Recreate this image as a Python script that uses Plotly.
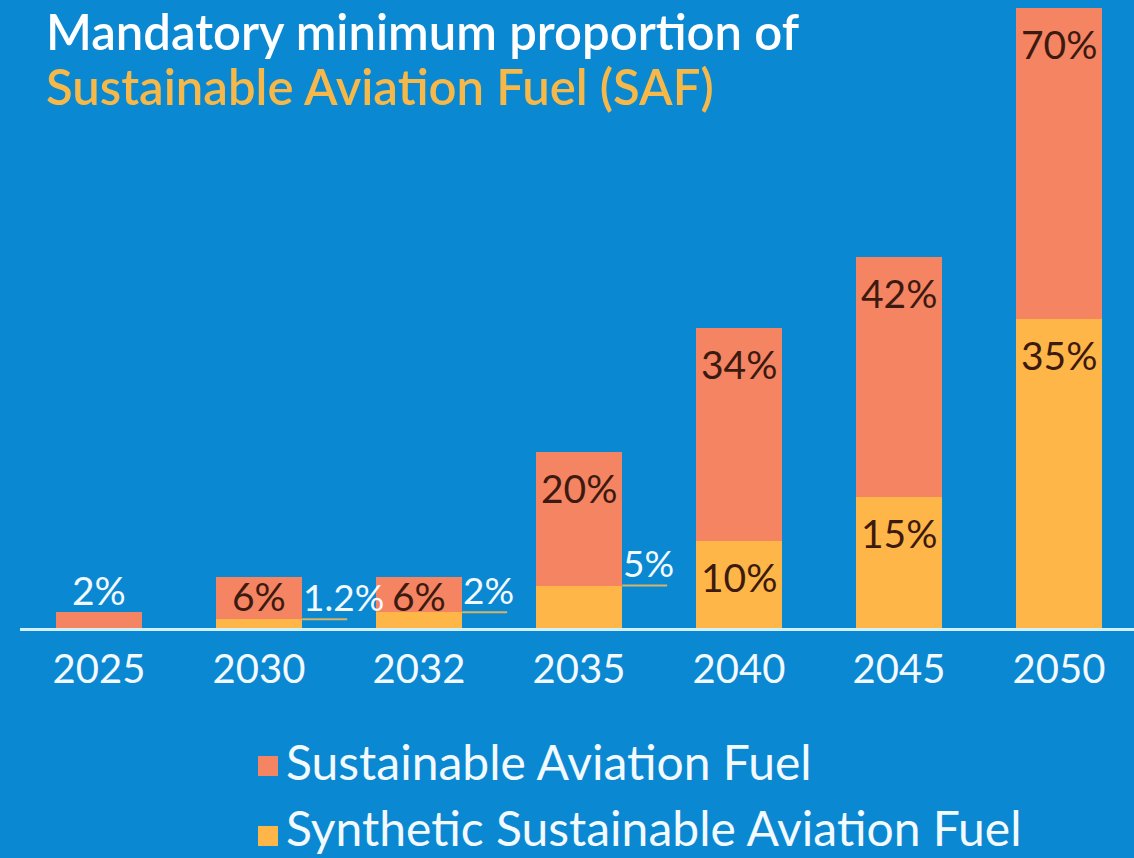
import plotly.graph_objects as go

# ---- data -------------------------------------------------------------
years = ["2025", "2030", "2032", "2035", "2040", "2045", "2050"]
saf_share = [2, 6, 6, 20, 34, 42, 70]              # total SAF, % of fuel
synthetic_share = [0, 1.2, 2, 5, 10, 15, 35]       # synthetic SAF sub-mandate, %

title_line1 = "Mandatory minimum proportion of"
title_line2 = "Sustainable Aviation Fuel (SAF)"
legend_saf = "Sustainable Aviation Fuel"
legend_synth = "Synthetic Sustainable Aviation Fuel"

# ---- styling ----------------------------------------------------------
BG = "#0B88D2"
SALMON = "#F58463"
AMBER = "#FDB647"
GOLD_TEXT = "#F6B848"
DARK = "#3D1A10"
WHITE = "#F2FAFF"
LEADER = "#D6B466"
FONT = "Lato"

W, H = 1134, 858
PLOT_H = 630                 # pixel row of the baseline
SLOT = 160                   # pixels per category
BAR_W = 0.54                 # bar width in category units
X0 = -99 / SLOT              # left edge of the x range
Y_MAX = 70.9
PX_PER_UNIT = PLOT_H / Y_MAX

x = list(range(len(years)))

fig = go.Figure()
fig.add_trace(go.Bar(x=x, y=saf_share, width=BAR_W, marker_color=SALMON,
                     marker_line_width=0, name=legend_saf, showlegend=False))
fig.add_trace(go.Bar(x=x, y=[v if v else None for v in synthetic_share],
                     width=BAR_W, marker_color=AMBER, marker_line_width=0,
                     name=legend_synth, showlegend=False))


def pct(v):
    return f"{v:g}%"


def py(p):
    """pixel row -> paper y"""
    return (PLOT_H - p) / PLOT_H


annotations = []
shapes = []

# total SAF labels: inside the top of the bar, or above when the bar is tiny
for i, v in enumerate(saf_share):
    h = v * PX_PER_UNIT
    if h < 30:
        annotations.append(dict(x=i, y=v, yshift=22, text=pct(v), showarrow=False,
                                font=dict(color=WHITE, size=39, family=FONT)))
    else:
        annotations.append(dict(x=i, y=v, yshift=-min(36, h * 0.36), text=pct(v),
                                showarrow=False,
                                font=dict(color=DARK, size=39, family=FONT)))

# synthetic labels: inside when there is room, otherwise on a leader line
for i, v in enumerate(synthetic_share):
    if not v:
        continue
    h = v * PX_PER_UNIT
    if h > 60:
        annotations.append(dict(x=i, y=v, yshift=-36, text=pct(v), showarrow=False,
                                font=dict(color=DARK, size=39, family=FONT)))
    else:
        edge = i + BAR_W / 2
        shapes.append(dict(type="line", xref="x", yref="y", x0=edge, x1=edge + 45 / SLOT,
                           y0=v, y1=v, line=dict(color=LEADER, width=2)))
        annotations.append(dict(x=edge, y=v, xanchor="left", xshift=-1, yshift=23,
                                text=pct(v), showarrow=False,
                                font=dict(color=WHITE, size=37, family=FONT)))

# baseline
shapes.append(dict(type="line", xref="paper", yref="paper", x0=20 / W, x1=1,
                   y0=py(629.5), y1=py(629.5),
                   line=dict(color="#D2F0FB", width=3)))

# title
annotations.append(dict(xref="paper", yref="paper", x=45 / W, y=py(31), xanchor="left",
                        yanchor="middle", text=title_line1, showarrow=False, borderpad=0,
                        font=dict(color="white", size=49, family=FONT, weight=600)))
annotations.append(dict(xref="paper", yref="paper", x=45 / W, y=py(86), xanchor="left",
                        yanchor="middle", text=title_line2, showarrow=False, borderpad=0,
                        font=dict(color=GOLD_TEXT, size=49, family=FONT, weight=600)))

# legend
for row, (label, col) in enumerate([(legend_saf, SALMON), (legend_synth, AMBER)]):
    cy = 766 + row * 70
    shapes.append(dict(type="rect", xref="paper", yref="paper",
                       x0=258 / W, x1=278 / W, y0=py(cy - 10), y1=py(cy + 10),
                       fillcolor=col, line_width=0))
    annotations.append(dict(xref="paper", yref="paper", x=285 / W, y=py(cy - 5 - 4 * row),
                            xanchor="left", yanchor="middle", text=label,
                            showarrow=False, borderpad=0,
                            font=dict(color=WHITE, size=48, family=FONT)))

fig.update_layout(
    width=W, height=H,
    margin=dict(l=0, r=0, t=0, b=H - PLOT_H),
    paper_bgcolor=BG, plot_bgcolor=BG,
    barmode="overlay", bargap=0,
    showlegend=False,
    annotations=annotations, shapes=shapes,
    xaxis=dict(range=[X0, X0 + W / SLOT], tickmode="array", tickvals=x, ticktext=years,
               tickfont=dict(color=WHITE, size=40, family=FONT), showgrid=False,
               zeroline=False, showline=False, ticks="", ticklabelstandoff=12,
               fixedrange=True),
    yaxis=dict(range=[0, Y_MAX], visible=False, fixedrange=True),
)

fig.write_html("out.html")
